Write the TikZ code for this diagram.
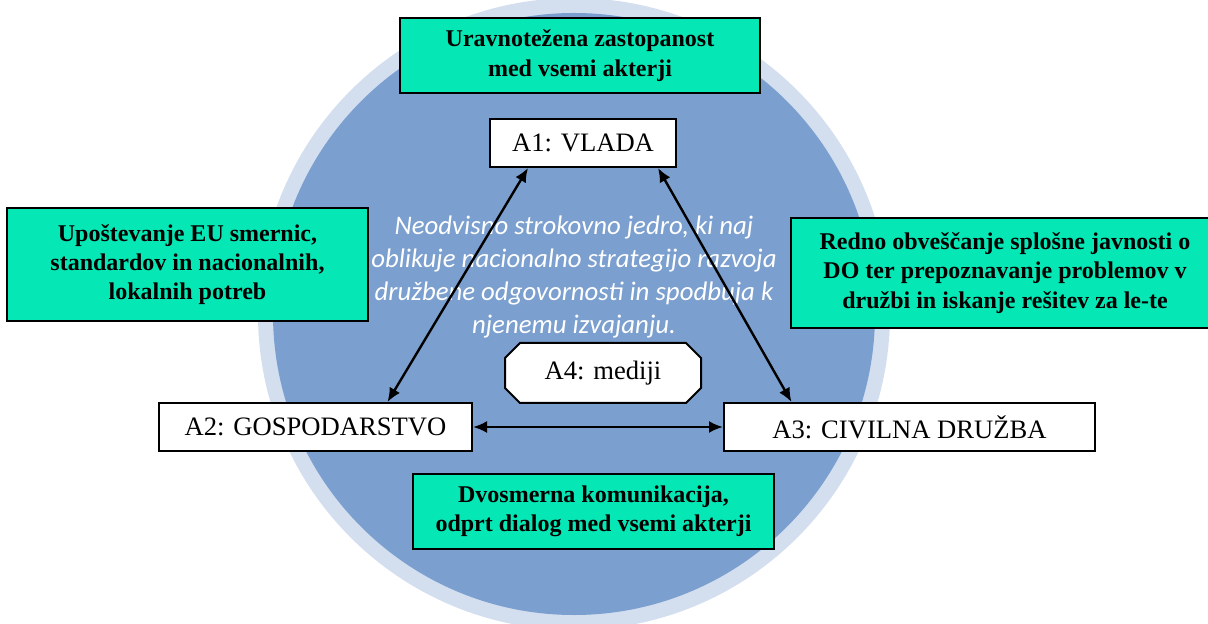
\documentclass[tikz,border=0pt]{standalone}
\usepackage{fontspec}
\setmainfont{Liberation Serif}
\newfontfamily\carlito{Carlito}
\usetikzlibrary{arrows.meta}
\definecolor{ringlight}{RGB}{211,222,239}
\definecolor{ringdark}{RGB}{123,159,206}
\definecolor{notegreen}{RGB}{5,232,181}
\begin{document}
\begin{tikzpicture}[x=0.5pt,y=-0.5pt,
	actor/.style={draw=black,line width=1pt,fill=white,inner sep=0pt,minimum height=24pt,font=\fontsize{13.3}{16}\selectfont},
	note/.style={draw=black,line width=1pt,fill=notegreen,inner sep=0pt,align=center,font=\bfseries\fontsize{12}{14.6}\selectfont},
	link/.style={{Latex[length=7pt,width=6pt]}-{Latex[length=7pt,width=6pt]},line width=1.2pt}]
	\useasboundingbox (0,0) rectangle (1208,624);
	\fill[ringlight] (574,314) circle (158pt);
	\fill[ringdark] (574,314) circle (150.5pt);
	\node[note,minimum width=180pt,minimum height=37.5pt] (balance) at (580,55.5) {Uravnotežena zastopanost\\med vsemi akterji};
	\node[note,minimum width=180.5pt,minimum height=56.5pt] (guidelines) at (187.5,264.5) {Upoštevanje EU smernic,\\standardov in nacionalnih,\\lokalnih potreb};
	\node[note,minimum width=214pt,minimum height=55pt] (public) at (1005,273) {Redno obveščanje splošne javnosti o\\DO ter prepoznavanje problemov v\\družbi in iskanje rešitev za le-te};
	\node[note,minimum width=180.5pt,minimum height=37.5pt] (dialog) at (593.5,511.5) {Dvosmerna komunikacija,\\odprt dialog med vsemi akterji};
	\node[align=center,text=white,font=\carlito\itshape\fontsize{13.4}{16.5}\selectfont] (core) at (574,277) {Neodvisno strokovno jedro, ki naj\\oblikuje nacionalno strategijo razvoja\\družbene odgovornosti in spodbuja k\\njenemu izvajanju.};
	\node[actor,minimum width=93pt] (A1) at (583,143) {A1: VLADA};
	\node[actor,minimum width=156.5pt] (A2) at (315.5,427) {A2: GOSPODARSTVO};
	\node[actor,minimum width=185.5pt] (A3) at (909.5,427) {A3: CIVILNA DRUŽBA};
	\draw[line width=1pt,fill=white] (520,343) -- (686,343) -- (701,358) -- (701,388) -- (686,403) -- (520,403) -- (505,388) -- (505,358) -- cycle;
	\node[font=\fontsize{13.3}{16}\selectfont] (A4) at (603,373) {A4: mediji};
	\draw[link] ([xshift=-27.5pt]A1.south) -- ([xshift=36pt]A2.north);
	\draw[link] ([xshift=37.5pt]A1.south) -- ([xshift=-59pt]A3.north);
	\draw[link] (A2) -- (A3);
\end{tikzpicture}
\end{document}
